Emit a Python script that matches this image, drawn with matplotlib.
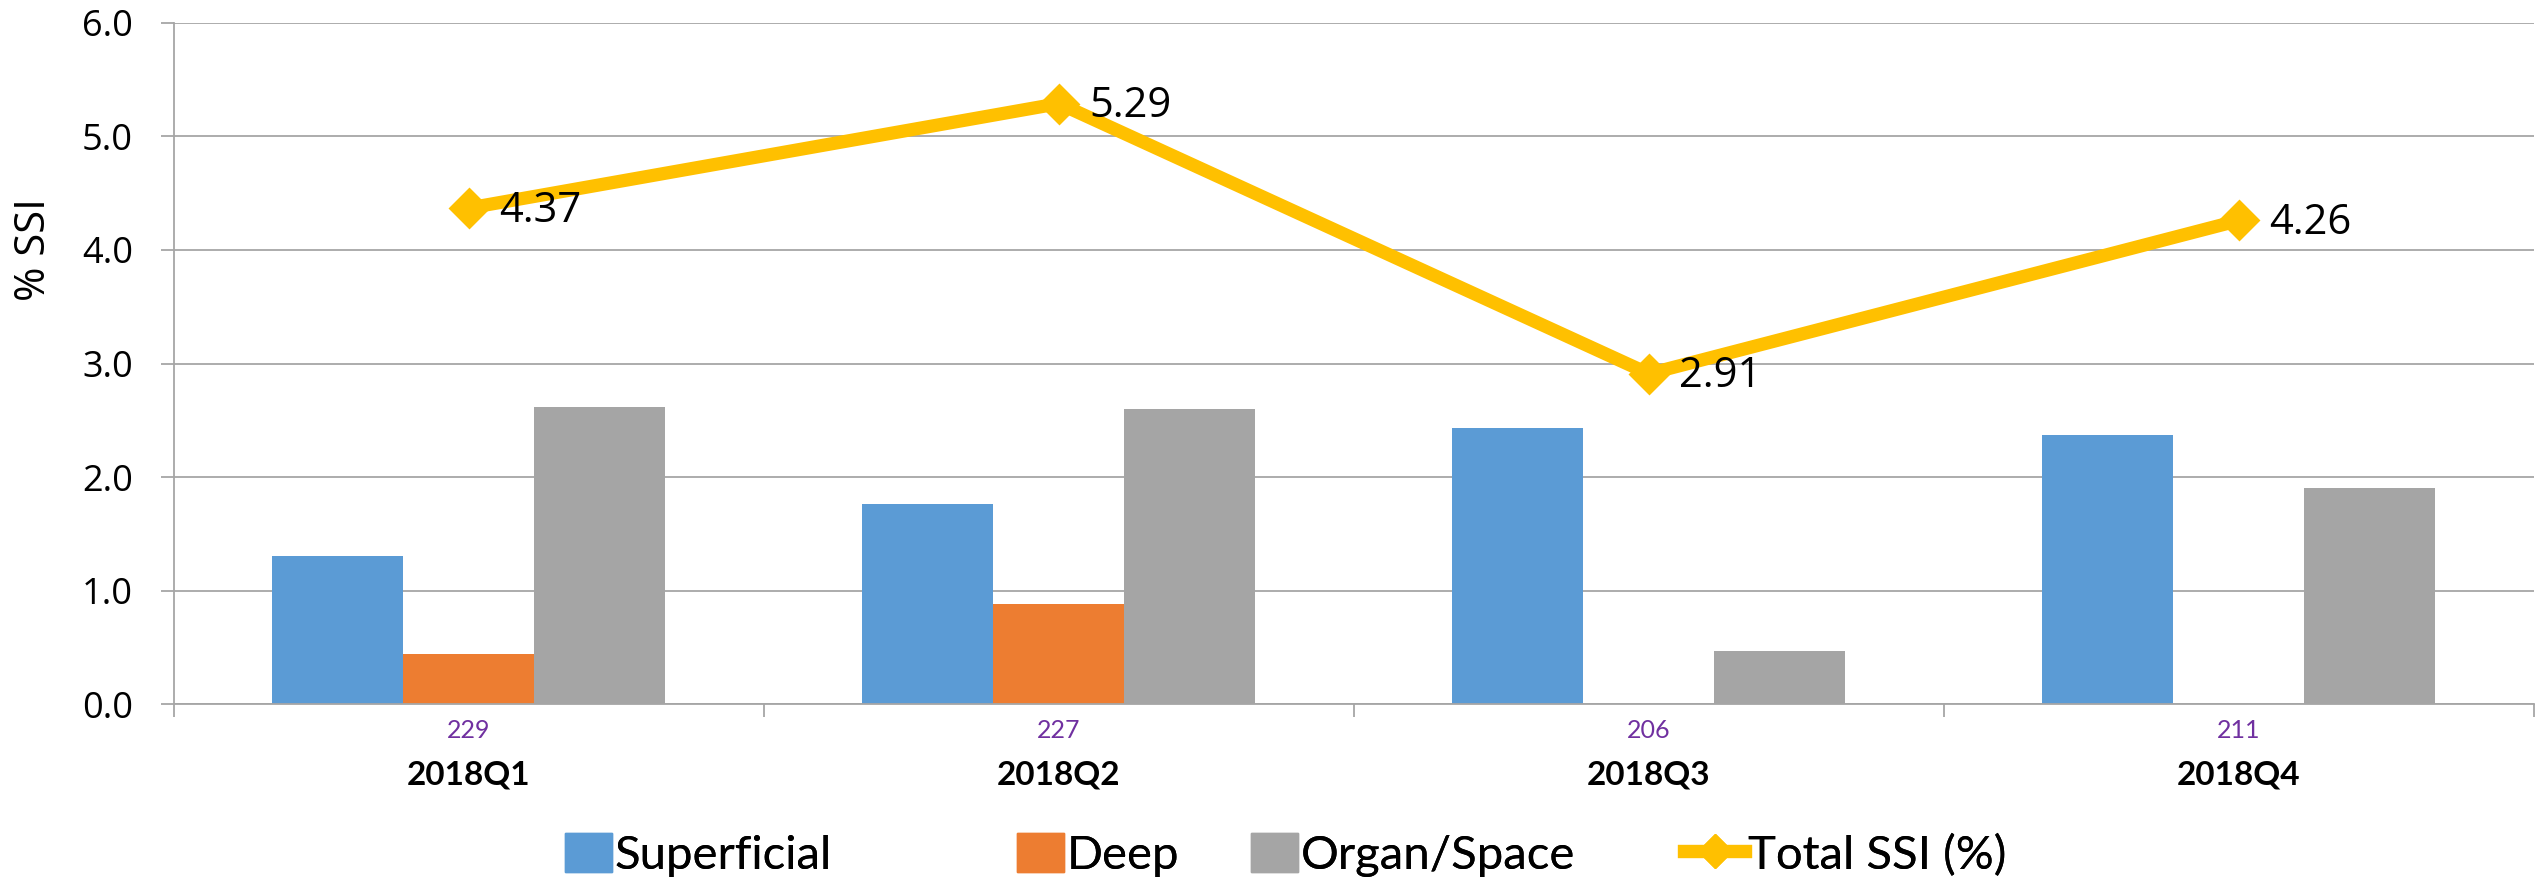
import matplotlib.pyplot as plt
import numpy as np
from matplotlib.lines import Line2D
from matplotlib.patches import Patch

# --- data ---
quarters = ["2018Q1", "2018Q2", "2018Q3", "2018Q4"]
n_cases = [229, 227, 206, 211]
superficial = [1.30, 1.76, 2.43, 2.37]
deep = [0.44, 0.88, 0.0, 0.0]
organ_space = [2.62, 2.60, 0.47, 1.90]
total_ssi = [4.37, 5.29, 2.91, 4.26]

BLUE = "#5B9BD5"
ORANGE = "#ED7D31"
GRAY = "#A5A5A5"
GOLD = "#FFC000"
PURPLE = "#7030A0"
AXIS_GRAY = "#A6A6A6"

fig = plt.figure(figsize=(25.39, 8.84), dpi=100)
ax = fig.add_axes([0.0685, 0.2036, 0.9295, 0.7704])

x = np.arange(len(quarters))
w = 0.222

ax.bar(x - w, superficial, w, color=BLUE, zorder=2)
ax.bar(x, deep, w, color=ORANGE, zorder=2)
ax.bar(x + w, organ_space, w, color=GRAY, zorder=2)

ax.plot(x, total_ssi, color=GOLD, lw=9.5, marker="D", ms=19, mew=2,
        mec=GOLD, mfc=GOLD, zorder=4, solid_joinstyle="miter")

for xi, v in zip(x, total_ssi):
    ax.annotate(f"{v:.2f}", (xi, v), xytext=(22, -2), textcoords="offset points",
                ha="left", va="center", fontsize=30, family="Open Sans", zorder=5)

# --- axes styling ---
ax.set_xlim(-0.5, 3.5)
ax.set_ylim(0, 6)
ax.set_yticks(np.arange(0, 7, 1))
ax.set_yticklabels([f"{t:.1f}" for t in range(7)], fontsize=26, family="Open Sans")
ax.yaxis.grid(True, color=AXIS_GRAY, lw=1.3, zorder=0)
ax.set_axisbelow(True)

for s in ["top", "right"]:
    ax.spines[s].set_visible(False)
for s in ["left", "bottom"]:
    ax.spines[s].set_color(AXIS_GRAY)
    ax.spines[s].set_linewidth(1.3)

ax.tick_params(axis="y", length=9.4, width=1.3, color=AXIS_GRAY, pad=20)

ax.set_xticks(x)
ax.set_xticklabels(quarters, fontsize=24, family="Lato", fontweight="bold")
ax.set_xticks(np.arange(-0.5, 4, 1), minor=True)
ax.tick_params(axis="x", which="major", length=0, pad=41)
ax.tick_params(axis="x", which="minor", length=9.4, width=1.3, color=AXIS_GRAY)

for xi, n in zip(x, n_cases):
    ax.annotate(str(n), (xi, 0), xycoords=("data", "axes fraction"),
                xytext=(0, -11), textcoords="offset points", ha="center", va="top",
                fontsize=18, family="Lato", color=PURPLE)

ax.set_ylabel("% SSI", fontsize=30, family="Open Sans")
ax.yaxis.set_label_coords(-0.0504, 0.668)

# --- legend: one small legend per entry so the spacing follows the original ---
handles = [
    Patch(color=BLUE, label="Superficial"),
    Patch(color=ORANGE, label="Deep"),
    Patch(color=GRAY, label="Organ/Space"),
    Line2D([], [], color=GOLD, lw=9.5, marker="D", ms=17, mec=GOLD, mfc=GOLD,
           label="Total SSI (%)"),
]
legend_left = [0.2225, 0.4005, 0.4928, 0.6632]
for h, lx in zip(handles, legend_left):
    leg = fig.legend(handles=[h], loc="center left", bbox_to_anchor=(lx, 0.033),
                     frameon=False, prop={"family": "Lato", "size": 34},
                     handlelength=1.0 if isinstance(h, Patch) else 1.3,
                     handleheight=0.9, handletextpad=0.05,
                     borderpad=0, borderaxespad=0)
    fig.add_artist(leg)

plt.savefig("out.png", dpi=100)
plt.close()
